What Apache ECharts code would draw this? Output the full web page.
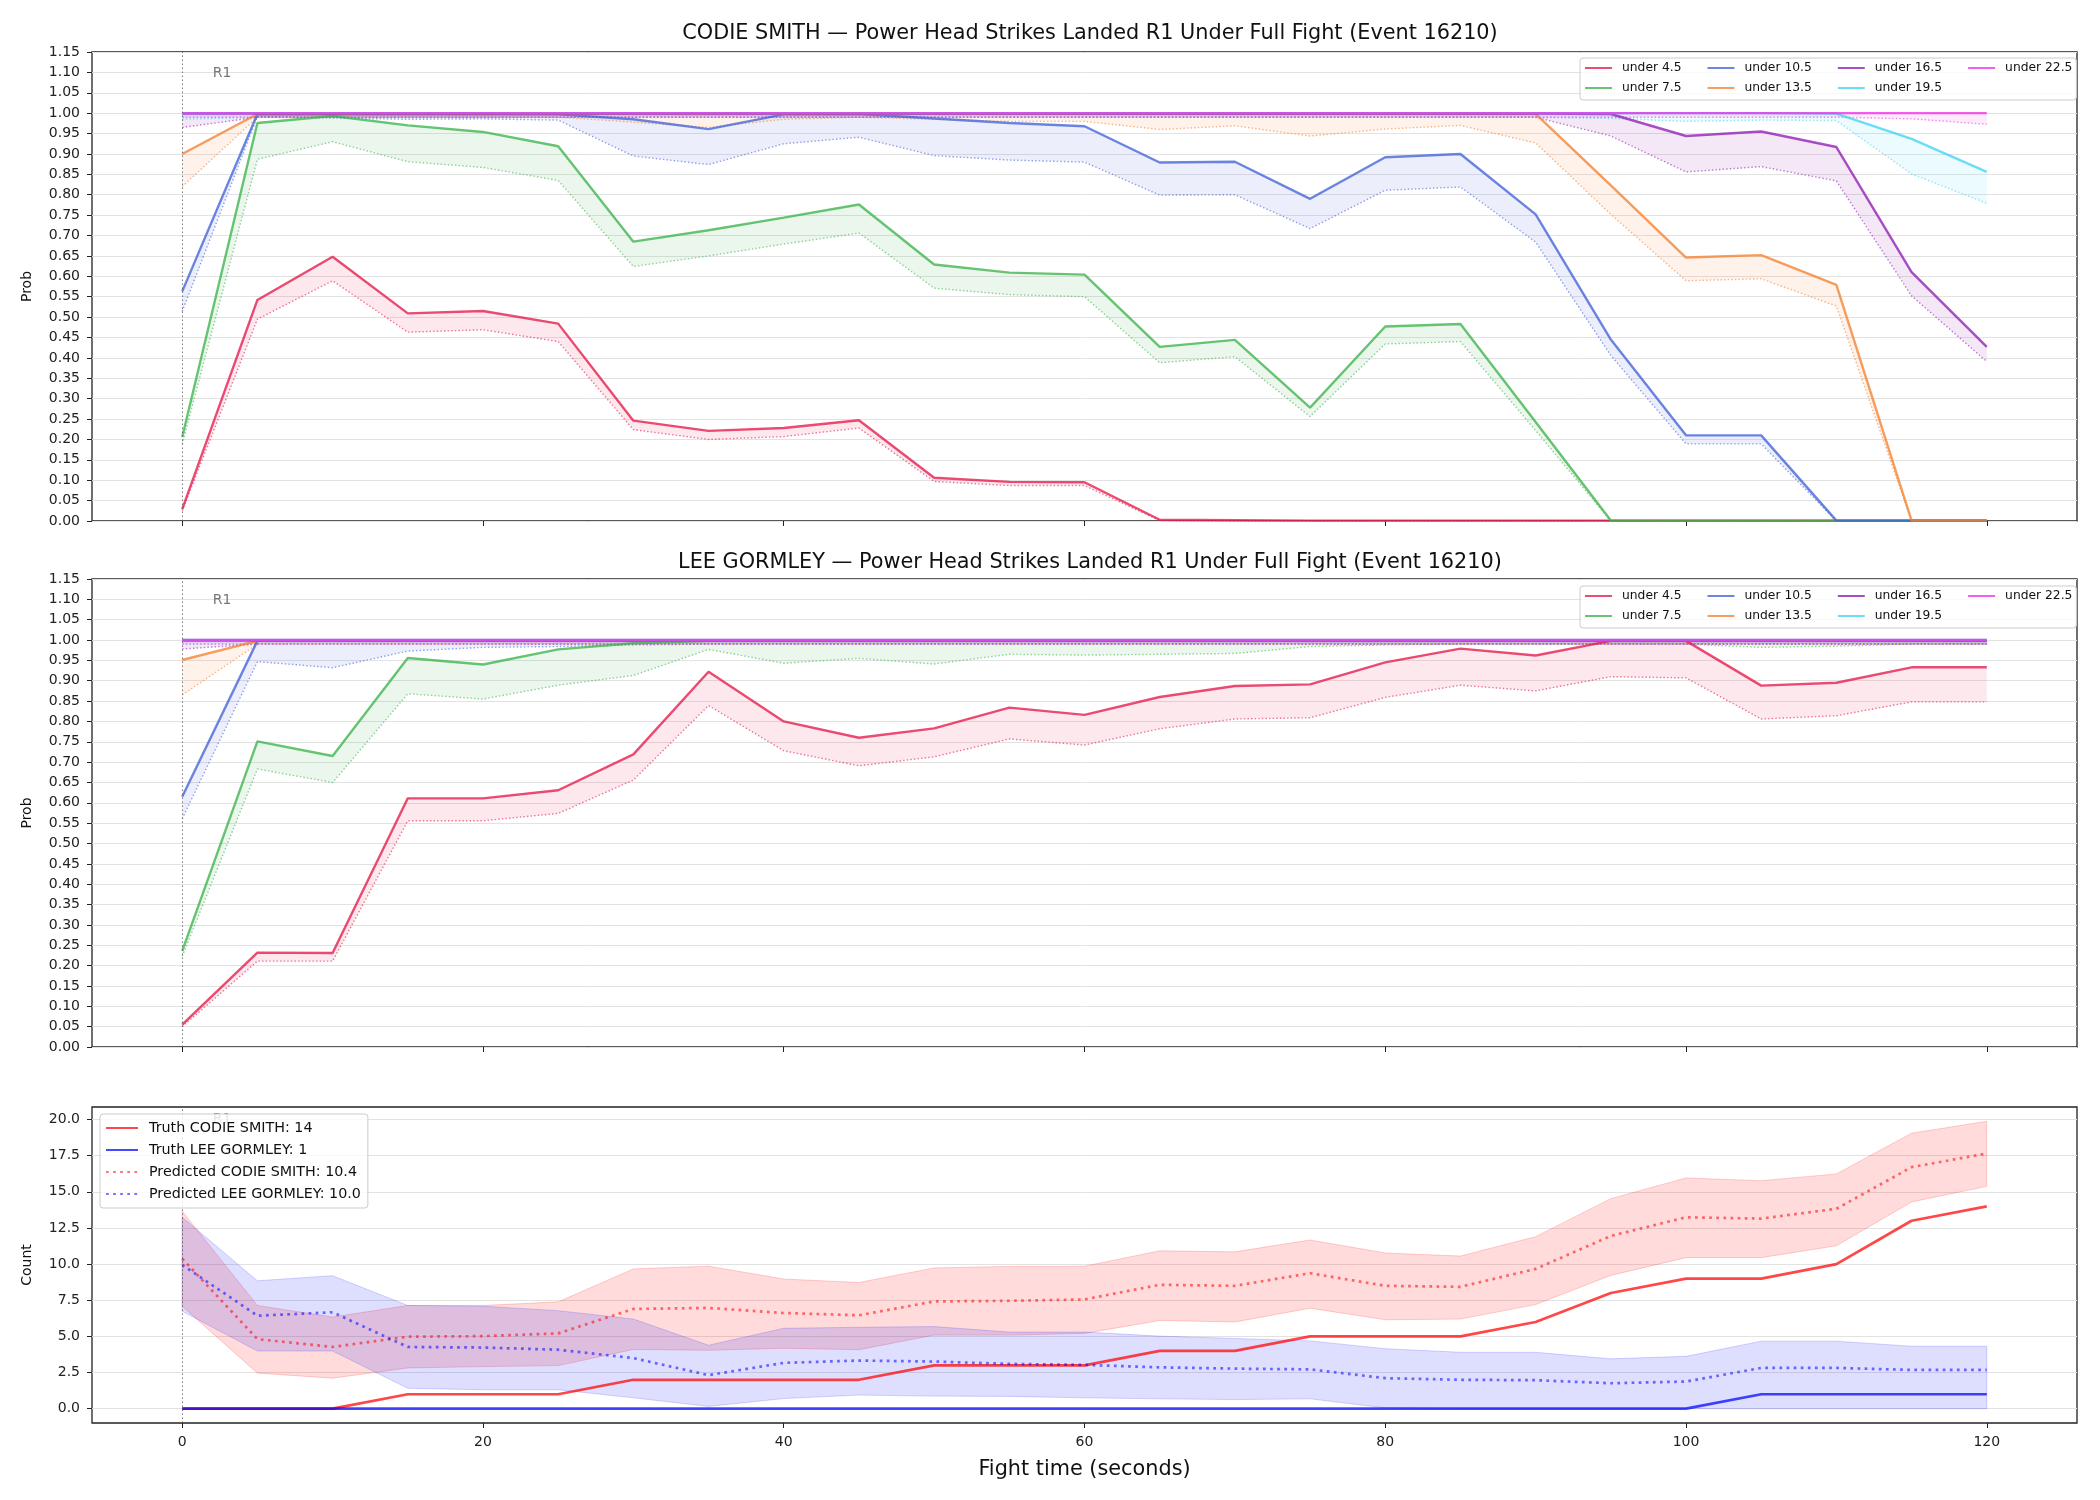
<!DOCTYPE html>
<html><head><meta charset="utf-8">
<script src="https://cdn.jsdelivr.net/npm/echarts@6/dist/echarts.min.js"></script>
<style>html,body{margin:0;padding:0;background:#fff}#c{width:2100px;height:1500px}</style>
</head><body><div id="c"></div>
<script>
// ---------------- DATA ----------------
const timeSec = [0,5,10,15,20,25,30,35,40,45,50,55,60,65,70,75,80,85,90,95,100,105,110,115,120];
const thresholds = ['under 4.5','under 7.5','under 10.5','under 13.5','under 16.5','under 19.5','under 22.5'];
const xTicks = [0,20,40,60,80,100,120];
const countTicks = [0,2.5,5,7.5,10,12.5,15,17.5,20];
const roundStart = 0;
const roundLabel = 'R1';

// CODIE SMITH panel: probability (solid) and lower bound (dotted)
const cs_u45    = [0.029,0.542,0.648,0.509,0.515,0.484,0.246,0.221,0.228,0.247,0.106,0.096,0.095,0.003,0.002,0.001,0.001,0.001,0.001,0.001,0.001,0.001,0.001,0.001,0.001];
const cs_u45_lo = [0.025,0.495,0.589,0.463,0.469,0.440,0.224,0.200,0.207,0.228,0.097,0.087,0.087,0.001,0,0,0,0,0,0,0,0,0,0,0];
const cs_u75    = [0.206,0.976,0.993,0.970,0.954,0.919,0.685,0.713,0.744,0.776,0.629,0.609,0.604,0.427,0.444,0.278,0.477,0.483,0.243,0.001,0.001,0.001,0.001,0.001,0.001];
const cs_u75_lo = [0.189,0.887,0.930,0.881,0.867,0.835,0.624,0.650,0.679,0.706,0.571,0.555,0.550,0.388,0.403,0.256,0.434,0.440,0.222,0,0,0,0,0,0];
const cs_u105   = [0.563,0.998,0.997,0.997,0.997,0.997,0.985,0.961,0.997,0.998,0.987,0.976,0.968,0.879,0.881,0.790,0.892,0.900,0.752,0.445,0.210,0.210,0.001,0.001,0.001];
const cs_u105_lo= [0.514,0.992,0.988,0.985,0.986,0.983,0.895,0.874,0.925,0.941,0.896,0.885,0.880,0.799,0.800,0.717,0.811,0.819,0.684,0.406,0.189,0.189,0,0,0];
const cs_u135   = [0.900,0.998,0.998,0.998,0.998,0.998,0.998,0.997,0.998,0.998,0.998,0.998,0.998,0.998,0.998,0.998,0.998,0.998,0.998,0.823,0.646,0.652,0.579,0.001,0.001];
const cs_u135_lo= [0.820,0.990,0.990,0.990,0.990,0.990,0.978,0.965,0.985,0.990,0.985,0.980,0.980,0.960,0.969,0.944,0.961,0.970,0.927,0.752,0.589,0.594,0.527,0,0];
const cs_u165   = [0.999,0.999,0.999,0.999,0.999,0.999,0.999,0.999,0.999,0.999,0.999,0.999,0.999,0.999,0.999,0.999,0.999,0.999,0.999,0.998,0.944,0.955,0.917,0.610,0.427];
const cs_u165_lo= [0.965,0.990,0.990,0.990,0.990,0.990,0.990,0.990,0.990,0.990,0.990,0.990,0.990,0.990,0.990,0.990,0.990,0.990,0.990,0.944,0.856,0.869,0.834,0.552,0.391];
const cs_u195   = [1,1,1,1,1,1,1,1,1,1,1,1,1,1,1,1,1,1,1,1,1,1,0.999,0.937,0.856];
const cs_u195_lo= [0.985,0.990,0.990,0.990,0.990,0.990,0.990,0.990,0.990,0.990,0.990,0.990,0.990,0.990,0.990,0.990,0.990,0.990,0.990,0.987,0.980,0.983,0.982,0.851,0.779];
const cs_u225   = [1,1,1,1,1,1,1,1,1,1,1,1,1,1,1,1,1,1,1,1,1,1,1,1,1];
const cs_u225_lo= [0.990,0.990,0.990,0.990,0.990,0.990,0.990,0.990,0.990,0.990,0.990,0.990,0.990,0.990,0.990,0.990,0.990,0.990,0.990,0.990,0.990,0.990,0.990,0.986,0.973];

// LEE GORMLEY panel
const lg_u45    = [0.055,0.232,0.231,0.611,0.611,0.631,0.719,0.922,0.800,0.760,0.783,0.834,0.816,0.860,0.887,0.891,0.945,0.979,0.962,0.998,0.998,0.888,0.895,0.933,0.933];
const lg_u45_lo = [0.050,0.211,0.211,0.556,0.556,0.574,0.656,0.839,0.728,0.691,0.713,0.757,0.742,0.782,0.806,0.809,0.859,0.889,0.875,0.910,0.907,0.806,0.814,0.848,0.848];
const lg_u75    = [0.236,0.751,0.715,0.956,0.940,0.977,0.992,0.998,0.998,0.998,0.998,0.998,0.998,0.998,0.998,0.998,0.998,0.998,0.998,0.998,0.998,0.998,0.998,0.998,0.998];
const lg_u75_lo = [0.223,0.683,0.650,0.868,0.855,0.889,0.913,0.977,0.943,0.955,0.941,0.965,0.963,0.965,0.967,0.984,0.988,0.990,0.990,0.990,0.990,0.982,0.985,0.990,0.990];
const lg_u105   = [0.615,0.998,0.998,0.998,0.998,0.998,0.998,0.998,0.998,0.998,0.998,0.998,0.998,0.998,0.998,0.998,0.998,0.998,0.998,0.998,0.998,0.998,0.998,0.998,0.998];
const lg_u105_lo= [0.561,0.947,0.932,0.973,0.982,0.984,0.988,0.990,0.990,0.990,0.990,0.990,0.990,0.990,0.990,0.990,0.990,0.990,0.990,0.990,0.990,0.990,0.990,0.990,0.990];
const lg_u135   = [0.951,0.998,0.998,0.998,0.998,0.998,0.998,0.998,0.998,0.998,0.998,0.998,0.998,0.998,0.998,0.998,0.998,0.998,0.998,0.998,0.998,0.998,0.998,0.998,0.998];
const lg_u135_lo= [0.865,0.990,0.990,0.990,0.990,0.990,0.990,0.990,0.990,0.990,0.990,0.990,0.990,0.990,0.990,0.990,0.990,0.990,0.990,0.990,0.990,0.990,0.990,0.990,0.990];
const lg_u165   = [0.999,0.999,0.999,0.999,0.999,0.999,0.999,0.999,0.999,0.999,0.999,0.999,0.999,0.999,0.999,0.999,0.999,0.999,0.999,0.999,0.999,0.999,0.999,0.999,0.999];
const lg_u165_lo= [0.978,0.990,0.990,0.990,0.990,0.990,0.990,0.990,0.990,0.990,0.990,0.990,0.990,0.990,0.990,0.990,0.990,0.990,0.990,0.990,0.990,0.990,0.990,0.990,0.990];
const lg_u195   = [1,1,1,1,1,1,1,1,1,1,1,1,1,1,1,1,1,1,1,1,1,1,1,1,1];
const lg_u195_lo= [0.990,0.990,0.990,0.990,0.990,0.990,0.990,0.990,0.990,0.990,0.990,0.990,0.990,0.990,0.990,0.990,0.990,0.990,0.990,0.990,0.990,0.990,0.990,0.990,0.990];
const lg_u225   = [1,1,1,1,1,1,1,1,1,1,1,1,1,1,1,1,1,1,1,1,1,1,1,1,1];
const lg_u225_lo= [0.990,0.990,0.990,0.990,0.990,0.990,0.990,0.990,0.990,0.990,0.990,0.990,0.990,0.990,0.990,0.990,0.990,0.990,0.990,0.990,0.990,0.990,0.990,0.990,0.990];

// Count panel
const truthCodie = [0,0,0,1,1,1,2,2,2,2,3,3,3,4,4,5,5,5,6,8,9,9,10,13,14];
const truthLee   = [0,0,0,0,0,0,0,0,0,0,0,0,0,0,0,0,0,0,0,0,0,1,1,1,1];
const predCodie    = [10.38,4.81,4.27,4.98,5.02,5.21,6.90,6.97,6.62,6.46,7.42,7.46,7.56,8.57,8.50,9.37,8.50,8.43,9.67,11.95,13.24,13.15,13.83,16.71,17.65];
const predCodieHi  = [13.66,7.14,6.34,7.14,7.14,7.39,9.67,9.86,8.97,8.73,9.74,9.84,9.86,10.92,10.85,11.67,10.77,10.56,11.90,14.53,15.96,15.77,16.24,19.06,19.88];
const predCodieLo  = [7.09,2.46,2.11,2.82,2.91,2.98,4.10,4.04,4.18,4.08,5.09,5.09,5.21,6.10,6.00,6.95,6.15,6.20,7.20,9.22,10.45,10.45,11.27,14.30,15.38];
const predLee      = [9.95,6.43,6.67,4.27,4.23,4.08,3.50,2.32,3.17,3.33,3.26,3.10,3.03,2.86,2.77,2.72,2.11,2.00,1.97,1.76,1.88,2.82,2.82,2.68,2.68];
const predLeeHi    = [13.24,8.85,9.20,7.14,7.09,6.78,6.20,4.39,5.56,5.63,5.68,5.30,5.30,5.02,4.86,4.69,4.15,3.90,3.90,3.45,3.62,4.67,4.67,4.32,4.32];
const predLeeLo    = [6.74,3.99,3.99,1.41,1.31,1.31,0.75,0.16,0.70,0.94,0.87,0.85,0.75,0.68,0.63,0.68,0.05,0,0,0,0,0,0,0,0];
const countNames = ['Truth CODIE SMITH: 14','Truth LEE GORMLEY: 1','Predicted CODIE SMITH: 10.4','Predicted LEE GORMLEY: 10.0'];
const titles = ['CODIE SMITH \u2014 Power Head Strikes Landed R1 Under Full Fight (Event 16210)',
                'LEE GORMLEY \u2014 Power Head Strikes Landed R1 Under Full Fight (Event 16210)'];

// ---------------- STYLE ----------------
const FONT = 'DejaVu Sans';
const colors = ['#e6194b','#3cb44b','#4363d8','#f58231','#911eb4','#42d4f4','#f032e6'];
function rgba(hex, a){const n=parseInt(hex.slice(1),16);return `rgba(${n>>16&255},${n>>8&255},${n&255},${a})`;}
function pairs(arr){return timeSec.map((x,i)=>[x,arr[i]]);}

const series = [];
function band(p, up, lo, col, fillA, strokeA){
  return {
    type:'custom', xAxisIndex:p, yAxisIndex:p, silent:true, z:1,
    data: timeSec.map((x,i)=>[x, up[i], lo[i]]),
    encode:{x:0, y:[1,2]},
    renderItem:(params, api)=>{
      if (params.dataIndex !== 0) return;
      const top = timeSec.map((x,i)=>api.coord([x, up[i]]));
      const bot = timeSec.map((x,i)=>api.coord([x, lo[i]])).reverse();
      return {type:'polygon', shape:{points: top.concat(bot)},
        style:{fill: rgba(col, fillA), stroke: strokeA ? rgba(col, strokeA) : null, lineWidth: 1}};
    }
  };
}
function vline(labelY){
  return {
    markLine:{silent:true, symbol:'none', animation:false, label:{show:false},
      lineStyle:{color:'#555', width:1, type:[1.5,2.5], opacity:0.8}, data:[{xAxis: roundStart}]},
    markPoint:{silent:true, symbol:'rect', symbolSize:1, itemStyle:{color:'rgba(0,0,0,0)'},
      label:{show:true, position:'right', distance:0, formatter: roundLabel, color:'#777', fontSize:14, fontFamily:FONT},
      data:[{coord:[roundStart+2, labelY]}]}
  };
}
function probPanel(p, ups, los){
  ups.forEach((up,k)=>{
    const col = colors[k];
    series.push(band(p, up, los[k], col, 0.1, 0));
  });
  ups.forEach((up,k)=>{
    const col = colors[k];
    series.push({type:'line', name: thresholds[k]+' lo', xAxisIndex:p, yAxisIndex:p, data:pairs(los[k]),
      symbol:'none', silent:true, z:3, lineStyle:{color:col, width:1.4, type:[1.4,2.2], opacity:0.6}, itemStyle:{color:col}});
    const s = {type:'line', name: thresholds[k], xAxisIndex:p, yAxisIndex:p, data:pairs(up),
      symbol:'none', silent:true, z:4, lineStyle:{color:col, width:2.4, opacity:0.78}, itemStyle:{color:col}};
    if (k===0) Object.assign(s, vline(1.097));
    series.push(s);
  });
}
probPanel(0, [cs_u45,cs_u75,cs_u105,cs_u135,cs_u165,cs_u195,cs_u225],
             [cs_u45_lo,cs_u75_lo,cs_u105_lo,cs_u135_lo,cs_u165_lo,cs_u195_lo,cs_u225_lo]);
probPanel(1, [lg_u45,lg_u75,lg_u105,lg_u135,lg_u165,lg_u195,lg_u225],
             [lg_u45_lo,lg_u75_lo,lg_u105_lo,lg_u135_lo,lg_u165_lo,lg_u195_lo,lg_u225_lo]);

// count panel
series.push(band(2, predCodieHi, predCodieLo, '#ff0000', 0.14, 0.18));
series.push(band(2, predLeeHi, predLeeLo, '#0000ff', 0.13, 0.16));
series.push(Object.assign({type:'line', name:countNames[0], xAxisIndex:2, yAxisIndex:2, data:pairs(truthCodie), symbol:'none', z:4,
  lineStyle:{color:'#ff0000', width:2.7, opacity:0.72}, itemStyle:{color:'#ff0000'}}, vline(20.0)));
series.push({type:'line', name:countNames[1], xAxisIndex:2, yAxisIndex:2, data:pairs(truthLee), symbol:'none', z:4,
  lineStyle:{color:'#0000ff', width:2.7, opacity:0.72}, itemStyle:{color:'#0000ff'}});
series.push({type:'line', name:countNames[2], xAxisIndex:2, yAxisIndex:2, data:pairs(predCodie), symbol:'none', z:4,
  lineStyle:{color:'#ff0000', width:2.7, type:[2.7,4.4], opacity:0.55}, itemStyle:{color:'#ff0000'}});
series.push({type:'line', name:countNames[3], xAxisIndex:2, yAxisIndex:2, data:pairs(predLee), symbol:'none', z:4,
  lineStyle:{color:'#0000ff', width:2.7, type:[2.7,4.4], opacity:0.55}, itemStyle:{color:'#0000ff'}});

// ---------------- LAYOUT ----------------
const gridBox = {left:92, right:23, show:true, borderColor:'#222', borderWidth:1.3, backgroundColor:'transparent'};
const grids = [Object.assign({top:52, height:469}, gridBox),
               Object.assign({top:579, height:468}, gridBox),
               Object.assign({top:1107, height:316}, gridBox)];
const xAxes = [0,1,2].map(i=>({
  type:'value', gridIndex:i, min:-6, max:126,
  axisLine:{show:false, onZero:false},
  axisTick:{show:true, customValues:xTicks, length:5, lineStyle:{color:'#222', width:1}},
  axisLabel:{show:i===2, customValues:xTicks, fontSize:14, color:'#222', fontFamily:FONT, margin:12},
  splitLine:{show:false},
  name: i===2 ? 'Fight time (seconds)' : '', nameLocation:'middle', nameGap:36,
  nameTextStyle:{fontSize:20.8, color:'#111', fontFamily:FONT}
}));
const yCommon = {
  type:'value', nameLocation:'middle', nameGap:58, nameRotate:90,
  nameTextStyle:{fontSize:14, color:'#111', fontFamily:FONT},
  axisLine:{show:false, onZero:false},
  axisTick:{show:true, length:5, lineStyle:{color:'#222', width:1}},
  splitLine:{show:true, lineStyle:{color:'#e2e2e2', width:1}}
};
const yAxes = [
  Object.assign({}, yCommon, {gridIndex:0, min:0, max:1.15, interval:0.05, name:'Prob',
    axisLabel:{fontSize:14, color:'#222', fontFamily:FONT, margin:12, formatter:v=>v.toFixed(2)}}),
  Object.assign({}, yCommon, {gridIndex:1, min:0, max:1.15, interval:0.05, name:'Prob',
    axisLabel:{fontSize:14, color:'#222', fontFamily:FONT, margin:12, formatter:v=>v.toFixed(2)}}),
  Object.assign({}, yCommon, {gridIndex:2, min:-0.99, max:20.87, name:'Count',
    axisTick:{show:true, length:5, customValues:countTicks, lineStyle:{color:'#222', width:1}},
    splitLine:{show:true, lineStyle:{color:'#e2e2e2', width:1}},
    axisLabel:{fontSize:14, color:'#222', fontFamily:FONT, margin:12, customValues:countTicks, formatter:v=>v.toFixed(1)}})
];

function probLegends(top){
  const common = {orient:'horizontal', left:1580, itemWidth:27, itemHeight:12, itemGap:25,
    itemStyle:{opacity:0},
    textStyle:{fontSize:12.3, color:'#111', fontFamily:FONT, padding:[0,0,0,5]}, selectedMode:false, z:20};
  return [
    Object.assign({}, common, {top:top, data:[thresholds[0],thresholds[2],thresholds[4],thresholds[6]],
      padding:[4,4,26,4], backgroundColor:'rgba(255,255,255,0.8)', borderColor:'#cccccc', borderWidth:1, borderRadius:3}),
    Object.assign({}, common, {top:top+20, data:[thresholds[1],thresholds[3],thresholds[5]], padding:[4,4,4,4], z:21})
  ];
}
const legends = probLegends(58).concat(probLegends(586)).concat([{
  orient:'vertical', left:100, top:1114, itemWidth:32, itemHeight:14, itemGap:8, padding:[7,7,7,5],
  data:countNames, selectedMode:false, z:20, itemStyle:{opacity:0},
  backgroundColor:'rgba(255,255,255,0.8)', borderColor:'#cccccc', borderWidth:1, borderRadius:3,
  textStyle:{fontSize:14.3, color:'#111', fontFamily:FONT, padding:[0,0,0,6]}
}]);

const option = {
  animation:false,
  backgroundColor:'#fff',
  textStyle:{fontFamily:FONT},
  title:[
    {text:titles[0], left:1085, top:18, textAlign:'center', textStyle:{fontSize:20.8, fontWeight:'normal', color:'#111', fontFamily:FONT}},
    {text:titles[1], left:1085, top:547, textAlign:'center', textStyle:{fontSize:20.8, fontWeight:'normal', color:'#111', fontFamily:FONT}}
  ],
  grid:grids, xAxis:xAxes, yAxis:yAxes, legend:legends, series:series
};
const chart = echarts.init(document.getElementById('c'), null, {renderer:'canvas'});
chart.setOption(option);
</script></body></html>
